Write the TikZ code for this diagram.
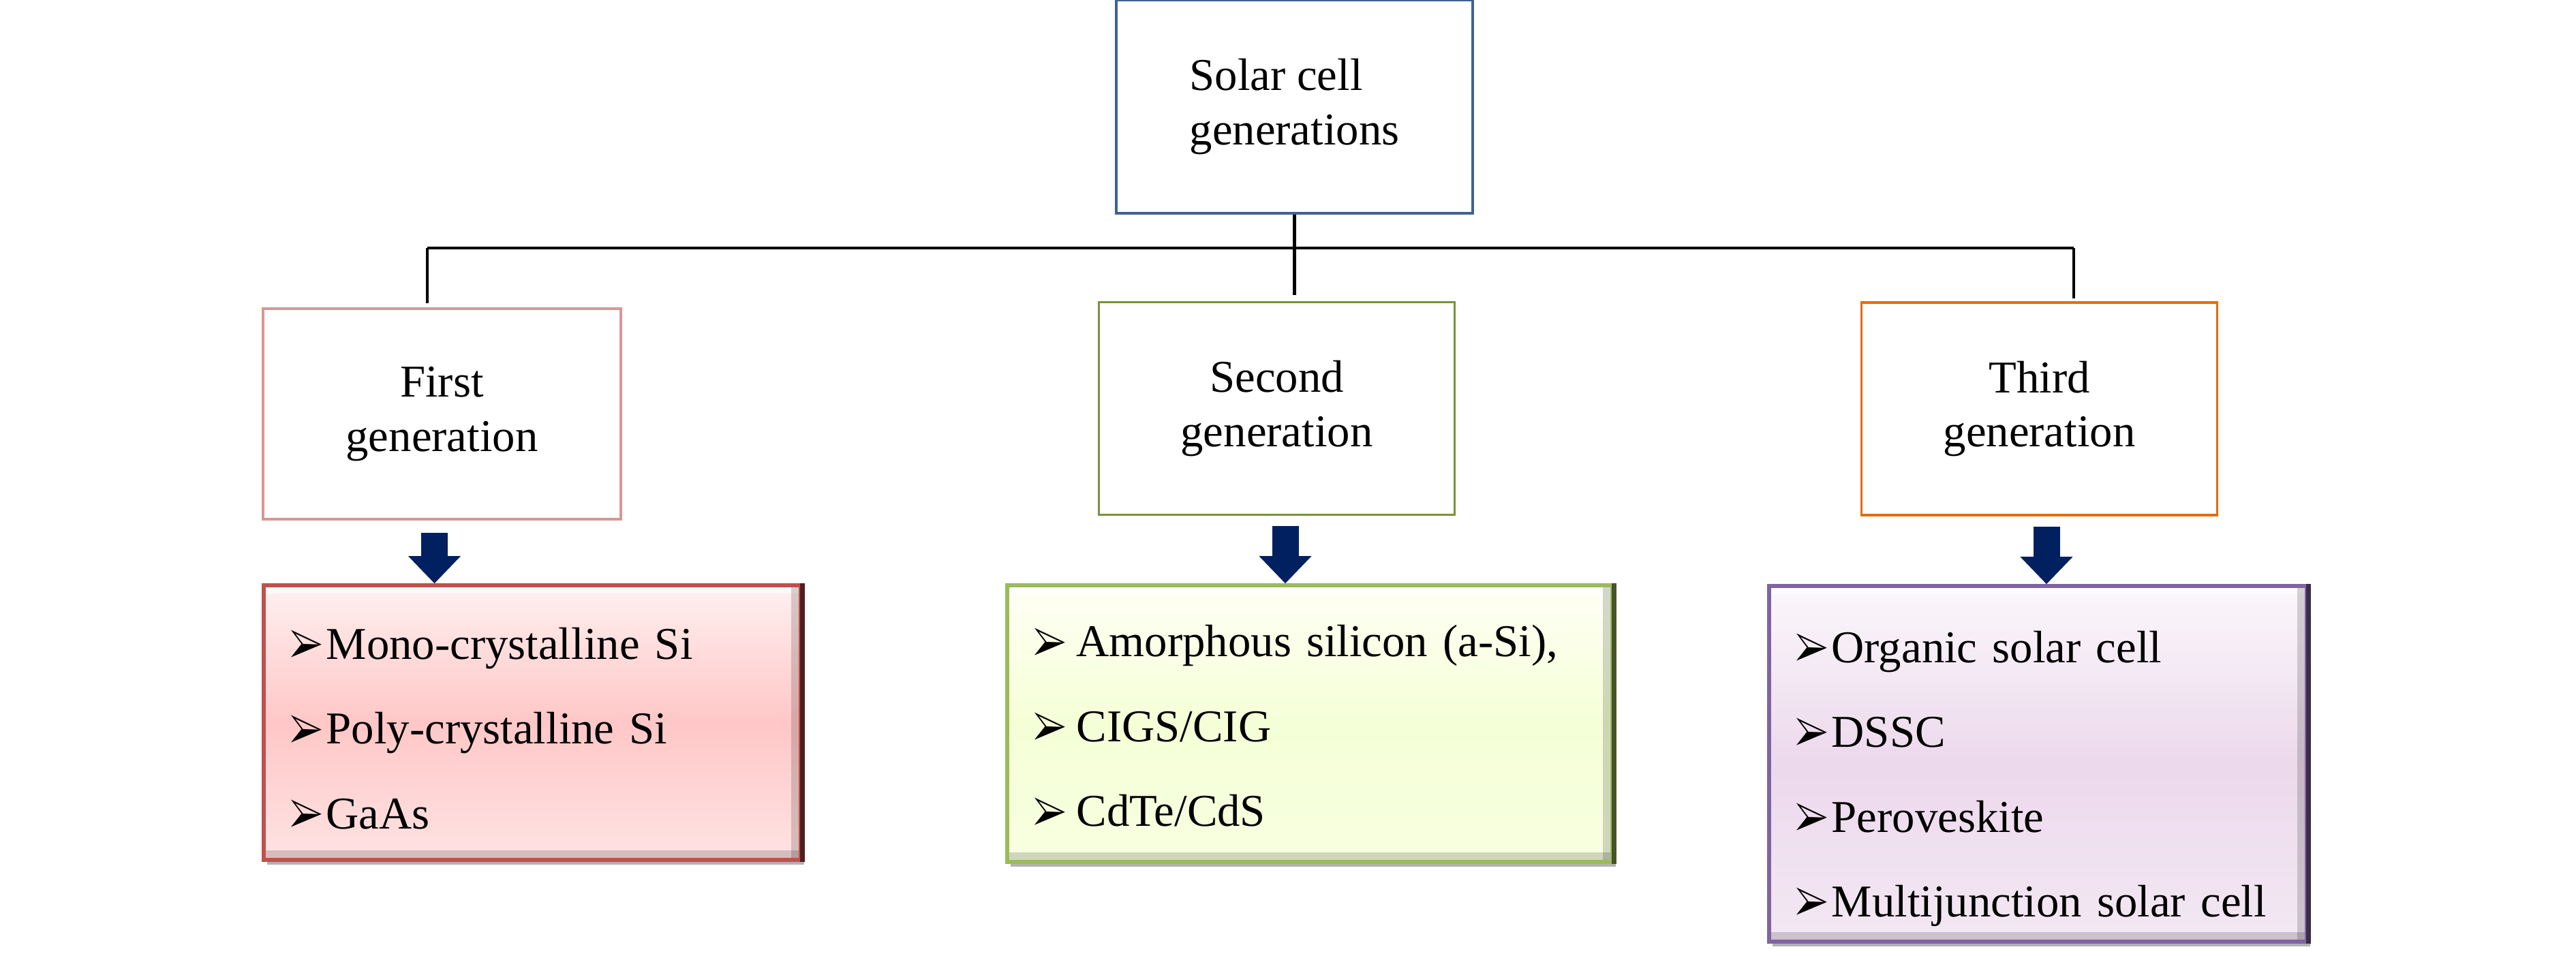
\documentclass[tikz,border=0pt]{standalone}
\usepackage{fontspec}
\setmainfont{Liberation Serif}
\usepackage{pifont}
\usetikzlibrary{arrows.meta,shadows}

\definecolor{topblue}{RGB}{63,98,145}
\definecolor{pinkline}{RGB}{217,150,148}
\definecolor{greenline}{RGB}{119,147,60}
\definecolor{orangeline}{RGB}{228,108,10}
\definecolor{navy}{RGB}{0,32,96}
\definecolor{redrim}{RGB}{192,80,77}
\definecolor{greenrim}{RGB}{155,187,89}
\definecolor{violetrim}{RGB}{128,100,162}

\newcommand{\itm}{{\fontsize{15}{15}\selectfont\raisebox{-0.08em}{\scalebox{1}[1.45]{\ding{226}}}}\hspace{0.05cm}}

\begin{document}
\begin{tikzpicture}
  [gen/.style={rectangle,draw,line width=1pt,align=center,inner sep=0pt,
     minimum width=5.22cm,minimum height=3.12cm,font=\fontsize{19}{22.7}\selectfont},
   list/.style={rectangle,draw,line width=1.6pt,align=left,inner xsep=0.38cm,inner ysep=0pt,
     font=\fontsize{19}{35.4}\selectfont,
     drop shadow={shadow xshift=0.05cm,shadow yshift=-0.07cm,fill=black,opacity=0.3},
     path picture={
       \fill[white,opacity=0.6] (path picture bounding box.north west) rectangle ([yshift=-0.12cm]path picture bounding box.north east);
       \fill[black,opacity=0.16] ([yshift=0.14cm]path picture bounding box.south west) rectangle (path picture bounding box.south east);
       \fill[black,opacity=0.16] ([xshift=-0.14cm]path picture bounding box.north east) rectangle (path picture bounding box.south east);}},
   bus/.style={line width=1.4pt},
   down/.style={line width=0.39cm,navy,-{Triangle[width=0.77cm,length=0.40cm,line width=0pt]}}]
  \useasboundingbox (0,0) rectangle (37.8,-14.06);

  % top box
  \node[gen,draw=topblue,align=left,minimum width=5.23cm,minimum height=3.13cm] (top) at (18.995,-1.565) {Solar cell\\generations};

  % the three generations
  \node[gen,draw=pinkline,minimum width=5.25cm,minimum height=3.09cm] (g1) at (6.485,-6.075) {First\\generation};
  \node[gen,draw=greenline] (g2) at (18.735,-5.995) {Second\\generation};
  \node[gen,draw=orangeline] (g3) at (29.925,-6.0) {Third\\generation};

  % lists
  \node[list,draw=redrim,top color=red!6,bottom color=red!11,middle color=red!22,
        minimum width=7.88cm,minimum height=4.03cm,text width=7.12cm] (l1) at (7.81,-10.605)
    {\rule{0pt}{0.67cm}\itm Mono-crystalline Si\\\itm Poly-crystalline Si\\\itm GaAs};
  \node[list,draw=greenrim,top color=yellow!4,bottom color=lime!12,middle color=lime!16,
        minimum width=8.88cm,minimum height=4.06cm,text width=8.12cm] (l2) at (19.22,-10.62)
    {\rule{0pt}{0.57cm}\itm\hspace{0.1cm}Amorphous silicon (a-Si),\\\itm\hspace{0.1cm}CIGS/CIG\\\itm\hspace{0.1cm}CdTe/CdS};
  \node[list,draw=violetrim,top color=violet!3,bottom color=violet!9,middle color=violet!15,
        minimum width=7.89cm,minimum height=5.22cm,text width=7.13cm] (l3) at (29.905,-11.21)
    {\rule{0pt}{0.9cm}\itm Organic solar cell\\\itm DSSC\\\itm Peroveskite\\\itm Multijunction solar cell};

  \draw[line width=2pt,redrim!40!black] (l1.north east) -- (l1.south east);
  \draw[line width=2pt,greenrim!45!black] (l2.north east) -- (l2.south east);
  \draw[line width=2pt,violetrim!45!black] (l3.north east) -- (l3.south east);

  % tree lines
  \coordinate (b1) at (6.27,-3.64);
  \coordinate (b3) at (30.43,-3.64);
  \draw[bus] (b1) -- (b3);
  \draw[bus] (top.south) -- ([yshift=0.09cm]top.south |- g2.north);
  \draw[bus] (b1) -- ([yshift=0.06cm]b1 |- g1.north);
  \draw[bus] (b3) -- ([yshift=0.04cm]b3 |- g3.north);

  % block arrows
  \draw[down] ([xshift=-0.11cm,yshift=-0.18cm]g1.south) -- ([xshift=-0.11cm]g1.south |- l1.north);
  \draw[down] ([xshift=0.125cm,yshift=-0.15cm]g2.south) -- ([xshift=0.125cm]g2.south |- l2.north);
  \draw[down] ([xshift=0.105cm,yshift=-0.15cm]g3.south) -- ([xshift=0.105cm]g3.south |- l3.north);

\end{tikzpicture}
\end{document}
